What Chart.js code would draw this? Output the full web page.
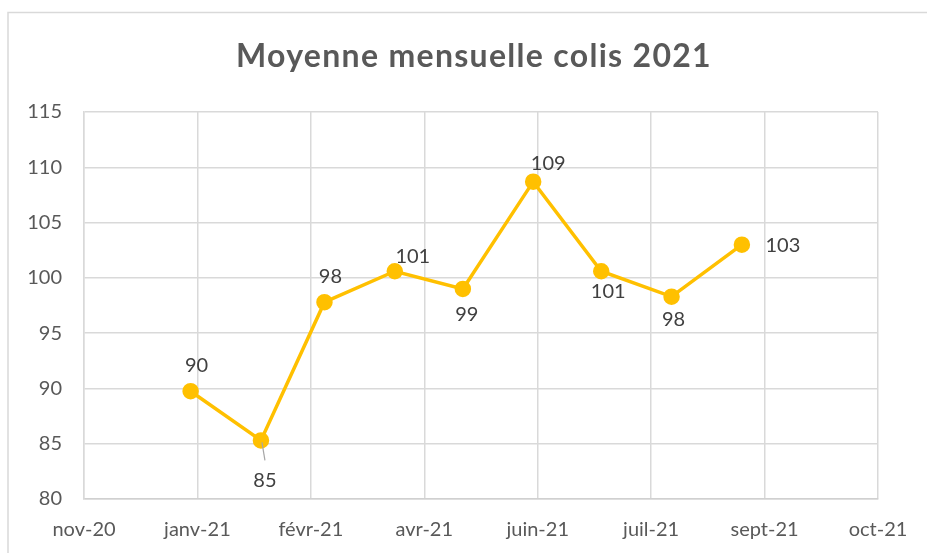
<!DOCTYPE html>
<html>
<head>
<meta charset="utf-8">
<script src="https://cdn.jsdelivr.net/npm/chart.js@4/dist/chart.umd.min.js"></script>
<style>
  html, body { margin: 0; padding: 0; background: #fff; }
  #wrap { width: 927px; height: 553px; position: relative; }
</style>
</head>
<body>
<div id="wrap"><canvas id="myLineChart" width="927" height="553"></canvas></div>
<script>
// data
var months = ['2021-01-01', '2021-02-01', '2021-03-01', '2021-04-01', '2021-05-01',
              '2021-06-01', '2021-07-01', '2021-08-01', '2021-09-01'];
var colis = [89.75, 85.3, 97.8, 100.6, 99.0, 108.7, 100.6, 98.3, 103.0];
var axisStart = '2020-11-15';   // excel date axis, major unit 50 days
var tickLabels = ['nov-20', 'janv-21', 'févr-21', 'avr-21', 'juin-21', 'juil-21', 'sept-21', 'oct-21'];

// label offsets (px) from each point, as placed in the workbook
var labelOffsets = [[6, -26], [4, 40], [6, -26], [18, -15], [4, 26], [15, -18], [7, 20], [2, 23], [41, 1]];

var DAY = 86400000;
function dayNum(s) { return (Date.parse(s) - Date.parse(axisStart)) / DAY; }

var points = months.map(function (m, i) { return { x: dayNum(m), y: colis[i] }; });

var FONT = 'Lato, "Open Sans", sans-serif';

var frameAndLabels = {
  id: 'frameAndLabels',
  beforeDraw: function (chart) {
    var c = chart.ctx;
    c.save();
    c.fillStyle = '#fff';
    c.fillRect(0, 0, chart.width, chart.height);
    c.strokeStyle = '#d9d9d9';
    c.lineWidth = 1.5;
    c.beginPath();
    c.moveTo(8, chart.height);
    c.lineTo(8, 12.5);
    c.lineTo(chart.width, 12.5);
    c.stroke();
    // title
    c.fillStyle = '#595959';
    c.font = 'bold 32px ' + FONT;
    c.letterSpacing = '1.3px';
    c.textAlign = 'center';
    c.textBaseline = 'alphabetic';
    c.fillText('Moyenne mensuelle colis 2021', 474, 67);
    c.restore();
  },
  afterDatasetsDraw: function (chart) {
    var c = chart.ctx;
    var meta = chart.getDatasetMeta(0);
    c.save();
    c.font = '20px ' + FONT;
    c.fillStyle = '#404040';
    c.textAlign = 'center';
    c.textBaseline = 'middle';
    meta.data.forEach(function (pt, i) {
      var off = labelOffsets[i];
      var lx = pt.x + off[0], ly = pt.y + off[1];
      if (i === 1) {
        // leader line
        c.strokeStyle = '#a6a6a6';
        c.lineWidth = 1.2;
        c.beginPath();
        c.moveTo(pt.x + 1, pt.y + 2);
        c.lineTo(pt.x + 4, pt.y + 20);
        c.stroke();
      }
      c.fillText(String(Math.round(colis[i])), lx, ly);
    });
    c.restore();
  }
};

new Chart(document.getElementById('myLineChart'), {
  type: 'line',
  data: {
    datasets: [{
      label: 'Moyenne mensuelle colis',
      data: points,
      borderColor: '#FFC000',
      backgroundColor: '#FFC000',
      borderWidth: 3.5,
      pointRadius: 6.5,
      pointHoverRadius: 6.5,
      pointBackgroundColor: '#FFC000',
      pointBorderColor: '#FFC000',
      tension: 0
    }]
  },
  options: {
    responsive: false,
    animation: false,
    events: [],
    layout: { padding: { left: 10, right: 49, top: 112, bottom: 0 } },
    plugins: {
      legend: { display: false },
      title: { display: false },
      tooltip: { enabled: false }
    },
    scales: {
      x: {
        type: 'linear',
        min: 0,
        max: 350,
        afterFit: function (s) { s.height = 54; },
        afterBuildTicks: function (s) {
          s.ticks = tickLabels.map(function (t, i) { return { value: i * 50 }; });
        },
        ticks: {
          callback: function (v, i) { return tickLabels[i]; },
          color: '#595959',
          font: { family: FONT, size: 20 },
          padding: 19,
          maxRotation: 0,
          autoSkip: false
        },
        grid: { color: '#d9d9d9', lineWidth: 1.5, drawTicks: false },
        border: { color: '#d0d0d0', width: 1.5 }
      },
      y: {
        min: 80,
        max: 115,
        afterFit: function (s) { s.width = 74; },
        ticks: {
          stepSize: 5,
          color: '#595959',
          font: { family: FONT, size: 20 },
          padding: 22
        },
        grid: { color: '#d9d9d9', lineWidth: 1.5, drawTicks: false },
        border: { color: '#d9d9d9', width: 1.5 }
      }
    }
  },
  plugins: [frameAndLabels]
});
</script>
</body>
</html>
